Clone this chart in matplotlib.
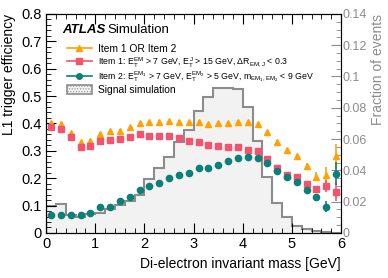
import numpy as np
import matplotlib
matplotlib.use("Agg")
import matplotlib.pyplot as plt
from matplotlib.lines import Line2D
from matplotlib.patches import Patch
from matplotlib.ticker import MultipleLocator

plt.rcParams['font.family'] = ['Liberation Sans', 'DejaVu Sans']
plt.rcParams['mathtext.fontset'] = 'custom'
plt.rcParams['mathtext.rm'] = 'Liberation Sans'
plt.rcParams['mathtext.it'] = 'Liberation Sans'
plt.rcParams['hatch.color'] = '#a8a8a8'
plt.rcParams['hatch.linewidth'] = 0.5

# bin centres / edges [GeV]
mass = [0.1, 0.3, 0.5, 0.7, 0.9, 1.1, 1.3, 1.5, 1.7, 1.9, 2.1, 2.3, 2.5, 2.7, 2.9,
        3.1, 3.3, 3.5, 3.7, 3.9, 4.1, 4.3, 4.5, 4.7, 4.9, 5.1, 5.3, 5.5, 5.7, 5.9]
edges = [0.0, 0.2, 0.4, 0.6, 0.8, 1.0, 1.2, 1.4, 1.6, 1.8, 2.0, 2.2, 2.4, 2.6, 2.8, 3.0,
         3.2, 3.4, 3.6, 3.8, 4.0, 4.2, 4.4, 4.6, 4.8, 5.0, 5.2, 5.4, 5.6, 5.8, 6.0]

eff_or = [0.402, 0.398, 0.365, 0.331, 0.337, 0.361, 0.371, 0.374, 0.387, 0.402,
          0.404, 0.407, 0.410, 0.407, 0.405, 0.407, 0.399, 0.400, 0.403, 0.407,
          0.404, 0.399, 0.367, 0.332, 0.304, 0.282, 0.245, 0.206, 0.212, 0.280]
err_or = [0.006, 0.006, 0.005, 0.005, 0.005, 0.005, 0.005, 0.005, 0.005, 0.004,
          0.004, 0.004, 0.004, 0.004, 0.004, 0.004, 0.004, 0.004, 0.004, 0.004,
          0.004, 0.004, 0.005, 0.006, 0.007, 0.008, 0.011, 0.016, 0.028, 0.045]

eff_1 = [0.386, 0.381, 0.349, 0.313, 0.316, 0.336, 0.341, 0.342, 0.349, 0.361,
         0.354, 0.353, 0.354, 0.347, 0.337, 0.334, 0.322, 0.316, 0.313, 0.313,
         0.303, 0.299, 0.270, 0.239, 0.210, 0.205, 0.177, 0.159, 0.172, 0.149]
err_1 = [0.006, 0.006, 0.005, 0.005, 0.005, 0.005, 0.005, 0.005, 0.005, 0.004,
         0.004, 0.004, 0.004, 0.004, 0.004, 0.004, 0.004, 0.004, 0.004, 0.004,
         0.004, 0.004, 0.005, 0.006, 0.007, 0.008, 0.010, 0.014, 0.022, 0.032]

eff_2 = [0.067, 0.067, 0.066, 0.065, 0.072, 0.095, 0.096, 0.116, 0.132, 0.156,
         0.172, 0.181, 0.199, 0.212, 0.220, 0.237, 0.237, 0.247, 0.262, 0.272,
         0.277, 0.272, 0.256, 0.227, 0.205, 0.185, 0.156, 0.131, 0.095, 0.216]
err_2 = [0.003, 0.003, 0.003, 0.003, 0.003, 0.003, 0.003, 0.003, 0.003, 0.003,
         0.003, 0.003, 0.003, 0.003, 0.003, 0.003, 0.003, 0.003, 0.003, 0.003,
         0.003, 0.003, 0.005, 0.006, 0.007, 0.008, 0.009, 0.012, 0.020, 0.042]

signal = [0.0173, 0.0183, 0.0115, 0.0104, 0.0119, 0.0130, 0.0151, 0.0179, 0.0207, 0.0243,
          0.0345, 0.0414, 0.0488, 0.0584, 0.0659, 0.0780, 0.0872, 0.0929, 0.0929, 0.0923,
          0.0805, 0.0588, 0.0360, 0.0190, 0.0101, 0.0047, 0.0023, 0.0012, 0.0005, 0.0]

labels = ["Item 1 OR Item 2",
          r"Item 1: $E_\mathrm{T}^\mathrm{EM}$ > 7 GeV, $E_\mathrm{T}^\mathrm{J}$ > 15 GeV, $\Delta R_\mathrm{EM,J}$ < 0.3",
          r"Item 2: $E_\mathrm{T}^\mathrm{EM_1}$ > 7 GeV, $E_\mathrm{T}^\mathrm{EM_2}$ > 5 GeV, $m_\mathrm{EM_1,EM_2}$ < 9 GeV",
          "Signal simulation"]

c_or = '#ffa200'
c_1 = '#f2546f'
c_2 = '#0b8078'
grey = '#8c8c8c'

fig = plt.figure(figsize=(3.88, 2.78), dpi=100)
ax = fig.add_axes([0.119, 0.162, 0.760, 0.788])
ax2 = ax.twinx()

# signal histogram on the right axis
ax2.stairs(signal, edges, fill=True, facecolor='#f2f2f2', edgecolor='none', hatch='......')
ax2.stairs(signal, edges, color=grey, linewidth=1.5)
ax2.set_ylim(0, 0.14)
ax2.set_ylabel("Fraction of events", color=grey, fontsize=10, loc='top', labelpad=3)
ax2.set_yticks([0, 0.02, 0.04, 0.06, 0.08, 0.1, 0.12, 0.14])
ax2.set_yticklabels(['0', '0.02', '0.04', '0.06', '0.08', '0.1', '0.12', '0.14'])
ax2.yaxis.set_minor_locator(MultipleLocator(0.005))
ax2.tick_params(axis='y', which='both', direction='in', colors=grey, labelsize=9, pad=1)
ax2.tick_params(axis='y', which='major', length=7)
ax2.tick_params(axis='y', which='minor', length=3.5)
ax2.spines['right'].set_color(grey)

ax.set_zorder(ax2.get_zorder() + 1)
ax.patch.set_visible(False)

ax.errorbar(mass, eff_or, yerr=err_or, fmt='^', color=c_or, ms=4.5, elinewidth=1.2, capsize=0)
ax.errorbar(mass, eff_1, yerr=err_1, fmt='s', color=c_1, ms=4.5, elinewidth=1.2, capsize=0)
ax.errorbar(mass, eff_2, yerr=err_2, fmt='o', color=c_2, ms=4.5, elinewidth=1.2, capsize=0)

ax.set_xlim(0, 6)
ax.set_ylim(0, 0.8)
ax.xaxis.set_major_locator(MultipleLocator(1))
ax.xaxis.set_minor_locator(MultipleLocator(0.2))
ax.set_yticks([0, 0.1, 0.2, 0.3, 0.4, 0.5, 0.6, 0.7, 0.8])
ax.set_yticklabels(['0', '0.1', '0.2', '0.3', '0.4', '0.5', '0.6', '0.7', '0.8'])
ax.yaxis.set_minor_locator(MultipleLocator(0.02))
ax.tick_params(which='both', direction='in', top=True, right=False, labelsize=10.5, pad=3)
ax.tick_params(which='major', length=7)
ax.tick_params(which='minor', length=3.5)
ax.set_xlabel("Di-electron invariant mass [GeV]", fontsize=10, loc='right')
ax.set_ylabel("L1 trigger efficiency", fontsize=10, loc='top')

ax.text(0.055, 0.925, "ATLAS", transform=ax.transAxes, fontsize=9.5,
        fontweight='bold', style='italic', va='center')
ax.text(0.207, 0.925, "Simulation", transform=ax.transAxes, fontsize=9.5, va='center')

handles = [Line2D([], [], color=c_or, marker='^', ms=4, lw=1.2),
           Line2D([], [], color=c_1, marker='s', ms=4, lw=1.2),
           Line2D([], [], color=c_2, marker='o', ms=4, lw=1.2),
           Patch(facecolor='#f2f2f2', edgecolor=grey, hatch='......', linewidth=1.2)]
leg = ax.legend(handles, labels, loc='upper left', bbox_to_anchor=(0.045, 0.895), frameon=False,
                fontsize=7.4, handlelength=2.5, handleheight=0.9, labelspacing=0.1,
                handletextpad=0.55, borderpad=0.2)
for t in leg.get_texts()[1:3]:
    t.set_fontsize(6.3)

fig.savefig("out.png", dpi=100)
